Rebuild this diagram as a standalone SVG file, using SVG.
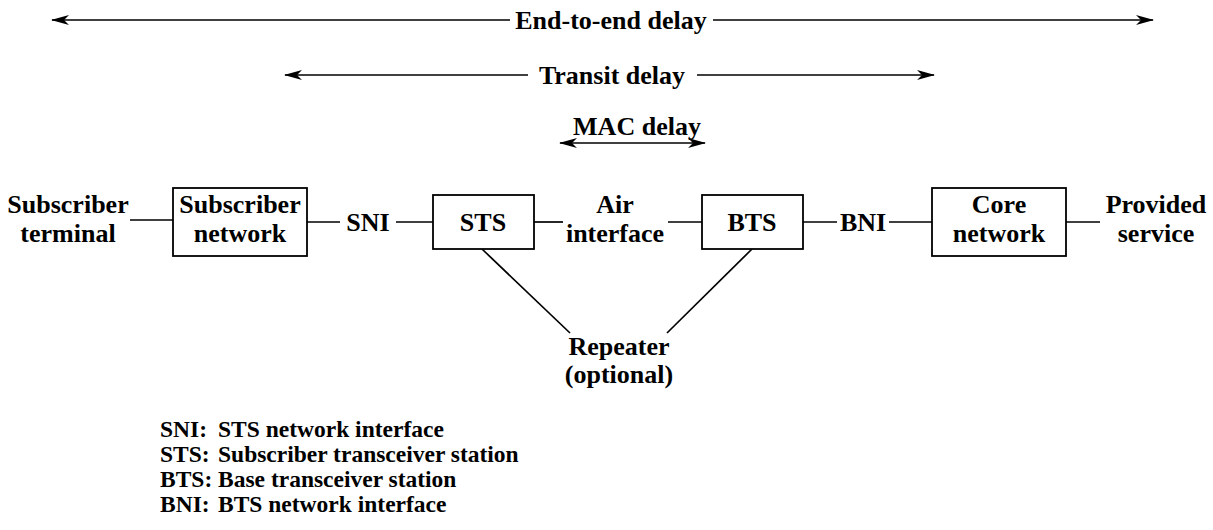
<svg xmlns="http://www.w3.org/2000/svg" width="1213" height="530" viewBox="0 0 1213 530">
<defs>
<style>
text{font-family:"Liberation Serif","Times New Roman",serif;font-weight:bold;font-size:26px;fill:#000}
.m{text-anchor:middle}
.ln{stroke:#000;stroke-width:1.7;fill:none}
.box{stroke:#000;stroke-width:1.8;fill:#fff}
.lg{font-size:23.5px}
</style>
<marker id="ah" viewBox="0 0 18 10" refX="17" refY="5" markerWidth="18" markerHeight="10" markerUnits="userSpaceOnUse" orient="auto-start-reverse">
<path d="M0,0 L18,5 L0,10 L5,5 z" fill="#000"/>
</marker>
</defs>
<rect width="1213" height="530" fill="#fff"/>

<g id="connectors">
<line class="ln" x1="52" y1="20" x2="510" y2="20" marker-start="url(#ah)"/>
<line class="ln" x1="713" y1="20" x2="1153" y2="20" marker-end="url(#ah)"/>
<line class="ln" x1="285" y1="75" x2="528" y2="75" marker-start="url(#ah)"/>
<line class="ln" x1="697" y1="75" x2="934" y2="75" marker-end="url(#ah)"/>
<line class="ln" x1="560" y1="143" x2="705" y2="143" marker-start="url(#ah)" marker-end="url(#ah)"/>
<line class="ln" x1="130" y1="220" x2="173" y2="220"/>
<line class="ln" x1="307" y1="222" x2="340" y2="222"/>
<line class="ln" x1="396" y1="222" x2="433" y2="222"/>
<line class="ln" x1="534" y1="222" x2="563" y2="222"/>
<line class="ln" x1="668" y1="222" x2="702" y2="222"/>
<line class="ln" x1="803" y1="222" x2="837" y2="222"/>
<line class="ln" x1="889" y1="222" x2="932" y2="222"/>
<line class="ln" x1="1066" y1="222" x2="1100" y2="222"/>
<line class="ln" x1="482" y1="249" x2="570" y2="333"/>
<line class="ln" x1="752" y1="249" x2="667" y2="333"/>
</g>

<g id="label-end-to-end"><text class="m" x="611" y="29">End-to-end delay</text></g>
<g id="label-transit"><text class="m" x="612" y="84">Transit delay</text></g>
<g id="label-mac"><text class="m" x="637" y="135">MAC delay</text></g>

<g id="subscriber-terminal">
<text class="m" x="68" y="213">Subscriber</text>
<text class="m" x="68" y="242">terminal</text>
</g>
<g id="subscriber-network">
<rect class="box" x="173" y="188" width="134" height="68"/>
<text class="m" x="240" y="213">Subscriber</text>
<text class="m" x="240" y="242">network</text>
</g>
<g id="sni"><text class="m" x="368" y="231">SNI</text></g>
<g id="sts">
<rect class="box" x="433" y="195" width="101" height="54"/>
<text class="m" x="483" y="231">STS</text>
</g>
<g id="air-interface">
<text class="m" x="615" y="213">Air</text>
<text class="m" x="615" y="242">interface</text>
</g>
<g id="bts">
<rect class="box" x="702" y="195" width="101" height="54"/>
<text class="m" x="752" y="231">BTS</text>
</g>
<g id="bni"><text class="m" x="863" y="231">BNI</text></g>
<g id="core-network">
<rect class="box" x="932" y="188" width="134" height="68"/>
<text class="m" x="999" y="213">Core</text>
<text class="m" x="999" y="242">network</text>
</g>
<g id="provided-service">
<text class="m" x="1156" y="213">Provided</text>
<text class="m" x="1156" y="242">service</text>
</g>
<g id="repeater">
<text class="m" x="619" y="355">Repeater</text>
<text class="m" x="619" y="383">(optional)</text>
</g>

<g id="legend">
<text class="lg" x="160" y="437">SNI:</text><text class="lg" x="218" y="437">STS network interface</text>
<text class="lg" x="160" y="462">STS:</text><text class="lg" x="218" y="462">Subscriber transceiver station</text>
<text class="lg" x="160" y="487">BTS:</text><text class="lg" x="218" y="487">Base transceiver station</text>
<text class="lg" x="160" y="512">BNI:</text><text class="lg" x="218" y="512">BTS network interface</text>
</g>
</svg>
